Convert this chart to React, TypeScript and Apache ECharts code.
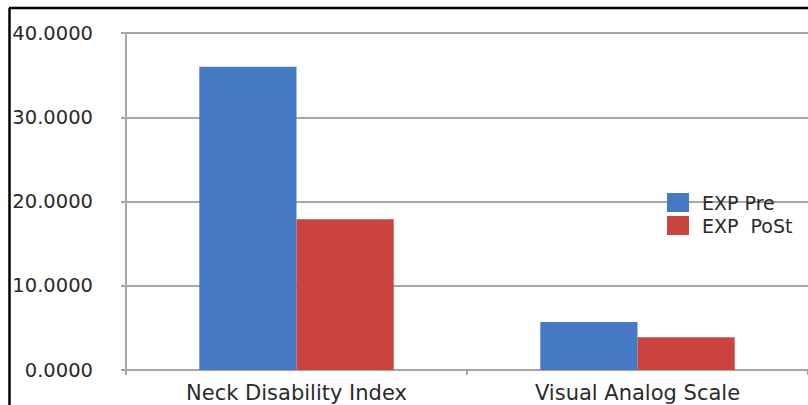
import React, { useEffect, useRef } from "react";
import * as echarts from "echarts";

const categories = ["Neck Disability Index", "Visual Analog Scale"];
const seriesNames = ["EXP Pre", "EXP  PoSt"];
const expPre = [36.0, 5.7];
const expPost = [17.9, 3.9];
const yTicks = [0, 10, 20, 30, 40];

export default function App() {
  const ref = useRef<HTMLDivElement>(null);
  useEffect(() => {
    if (!ref.current) return;
    const chart = echarts.init(ref.current, null, { renderer: "svg" });
    const font = "DejaVu Sans";
    chart.setOption({
      animation: false,
      backgroundColor: "#ffffff",
      textStyle: { fontFamily: font },
      grid: { left: 126, top: 33, width: 684, height: 337, containLabel: false },
      legend: {
        orient: "vertical",
        left: 667,
        top: 193,
        itemWidth: 22,
        itemHeight: 19,
        itemGap: 4,
        padding: 0,
        icon: "rect",
        textStyle: { fontFamily: font, fontSize: 19, color: "#2a2a2a", padding: [0, 0, 0, 8] },
        data: seriesNames,
      },
      xAxis: {
        type: "category",
        data: categories,
        axisLine: { show: true, lineStyle: { color: "#a6a6a6", width: 2 } },
        axisTick: { show: true, length: 5, lineStyle: { color: "#a6a6a6", width: 2 } },
        axisLabel: { fontFamily: font, fontSize: 21, color: "#2a2a2a", margin: 12 },
        splitLine: { show: false },
      },
      yAxis: {
        type: "value",
        min: yTicks[0],
        max: yTicks[yTicks.length - 1],
        interval: 10,
        axisLine: { show: true, lineStyle: { color: "#a6a6a6", width: 2 } },
        axisTick: { show: true, length: 5, lineStyle: { color: "#a6a6a6", width: 2 } },
        axisLabel: {
          fontFamily: font,
          fontSize: 19.5,
          color: "#2a2a2a",
          margin: 33,
          formatter: (v: number) => v.toFixed(4),
        },
        splitLine: { show: true, lineStyle: { color: "#a6a6a6", width: 2 } },
      },
      series: [
        {
          name: seriesNames[0],
          type: "bar",
          data: expPre,
          barGap: "0%",
          barCategoryGap: "43%",
          itemStyle: { color: "#4579c3" },
        },
        {
          name: seriesNames[1],
          type: "bar",
          data: expPost,
          barGap: "0%",
          barCategoryGap: "43%",
          itemStyle: { color: "#c9433f" },
        },
      ],
      graphic: [
        { type: "line", shape: { x1: 9, y1: 8, x2: 808, y2: 8 }, style: { stroke: "#000", lineWidth: 2.5 }, z: 100 },
        { type: "line", shape: { x1: 9.5, y1: 8, x2: 9.5, y2: 405 }, style: { stroke: "#000", lineWidth: 2.5 }, z: 100 },
      ],
    });
    return () => chart.dispose();
  }, []);
  return (
    <div
      ref={ref}
      style={{ position: "absolute", left: 0, top: 0, width: 808, height: 405, overflow: "hidden" }}
    />
  );
}
